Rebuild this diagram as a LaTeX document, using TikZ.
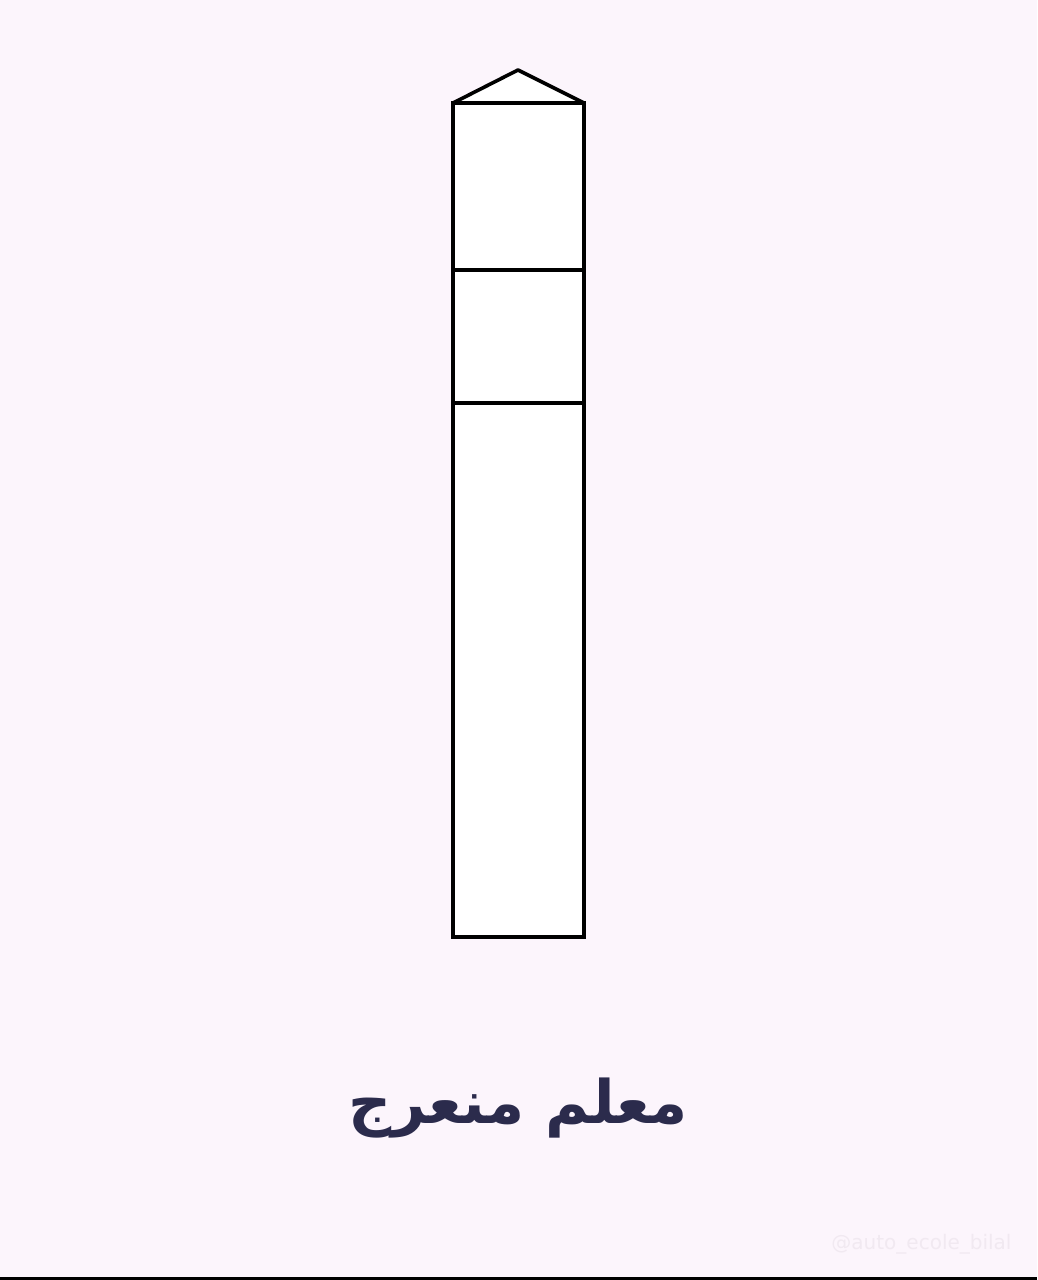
\documentclass[tikz,border=0pt]{standalone}
\usepackage{fontspec}
\TeXXeTstate=1
\newfontfamily\arabicfont[Script=Arabic]{DejaVu Sans}
\newfontfamily\wmfont{DejaVu Sans}
\definecolor{bgc}{HTML}{FCF5FC}
\definecolor{txtc}{HTML}{2B2B4C}
\definecolor{wmc}{HTML}{F1E9F1}
\tikzset{
  pole/.style={draw=black, line width=3.6pt, fill=white, line join=round},
  band/.style={draw=black, line width=3.6pt},
}
\begin{document}
\begin{tikzpicture}[x=1pt,y=-1pt]
\fill[bgc] (0,0) rectangle (1037,1280);
\useasboundingbox (0,0) rectangle (1037,1280);
\coordinate (tl) at (453,103);
\coordinate (tr) at (584,103);
\coordinate (bl) at (453,937);
\coordinate (br) at (584,937);
\coordinate (apex) at (518,70);
\draw[pole] (tl) -- (apex) -- (tr) -- cycle;
\draw[pole, line join=miter] (tl) rectangle (br);
\draw[band] (453,270) -- (584,270);
\draw[band] (453,403) -- (584,403);
\node (label) at (518,1108) {\fontsize{60}{66}\selectfont\color{txtc}\arabicfont\bfseries\beginR معلم منعرج\endR};
\node[anchor=east] (wm) at (1015,1244) {\fontsize{20}{24}\selectfont\color{wmc}\wmfont @auto\_ecole\_bilal};
\fill[black] (0,1277) rectangle (1037,1280);
\end{tikzpicture}
\end{document}
